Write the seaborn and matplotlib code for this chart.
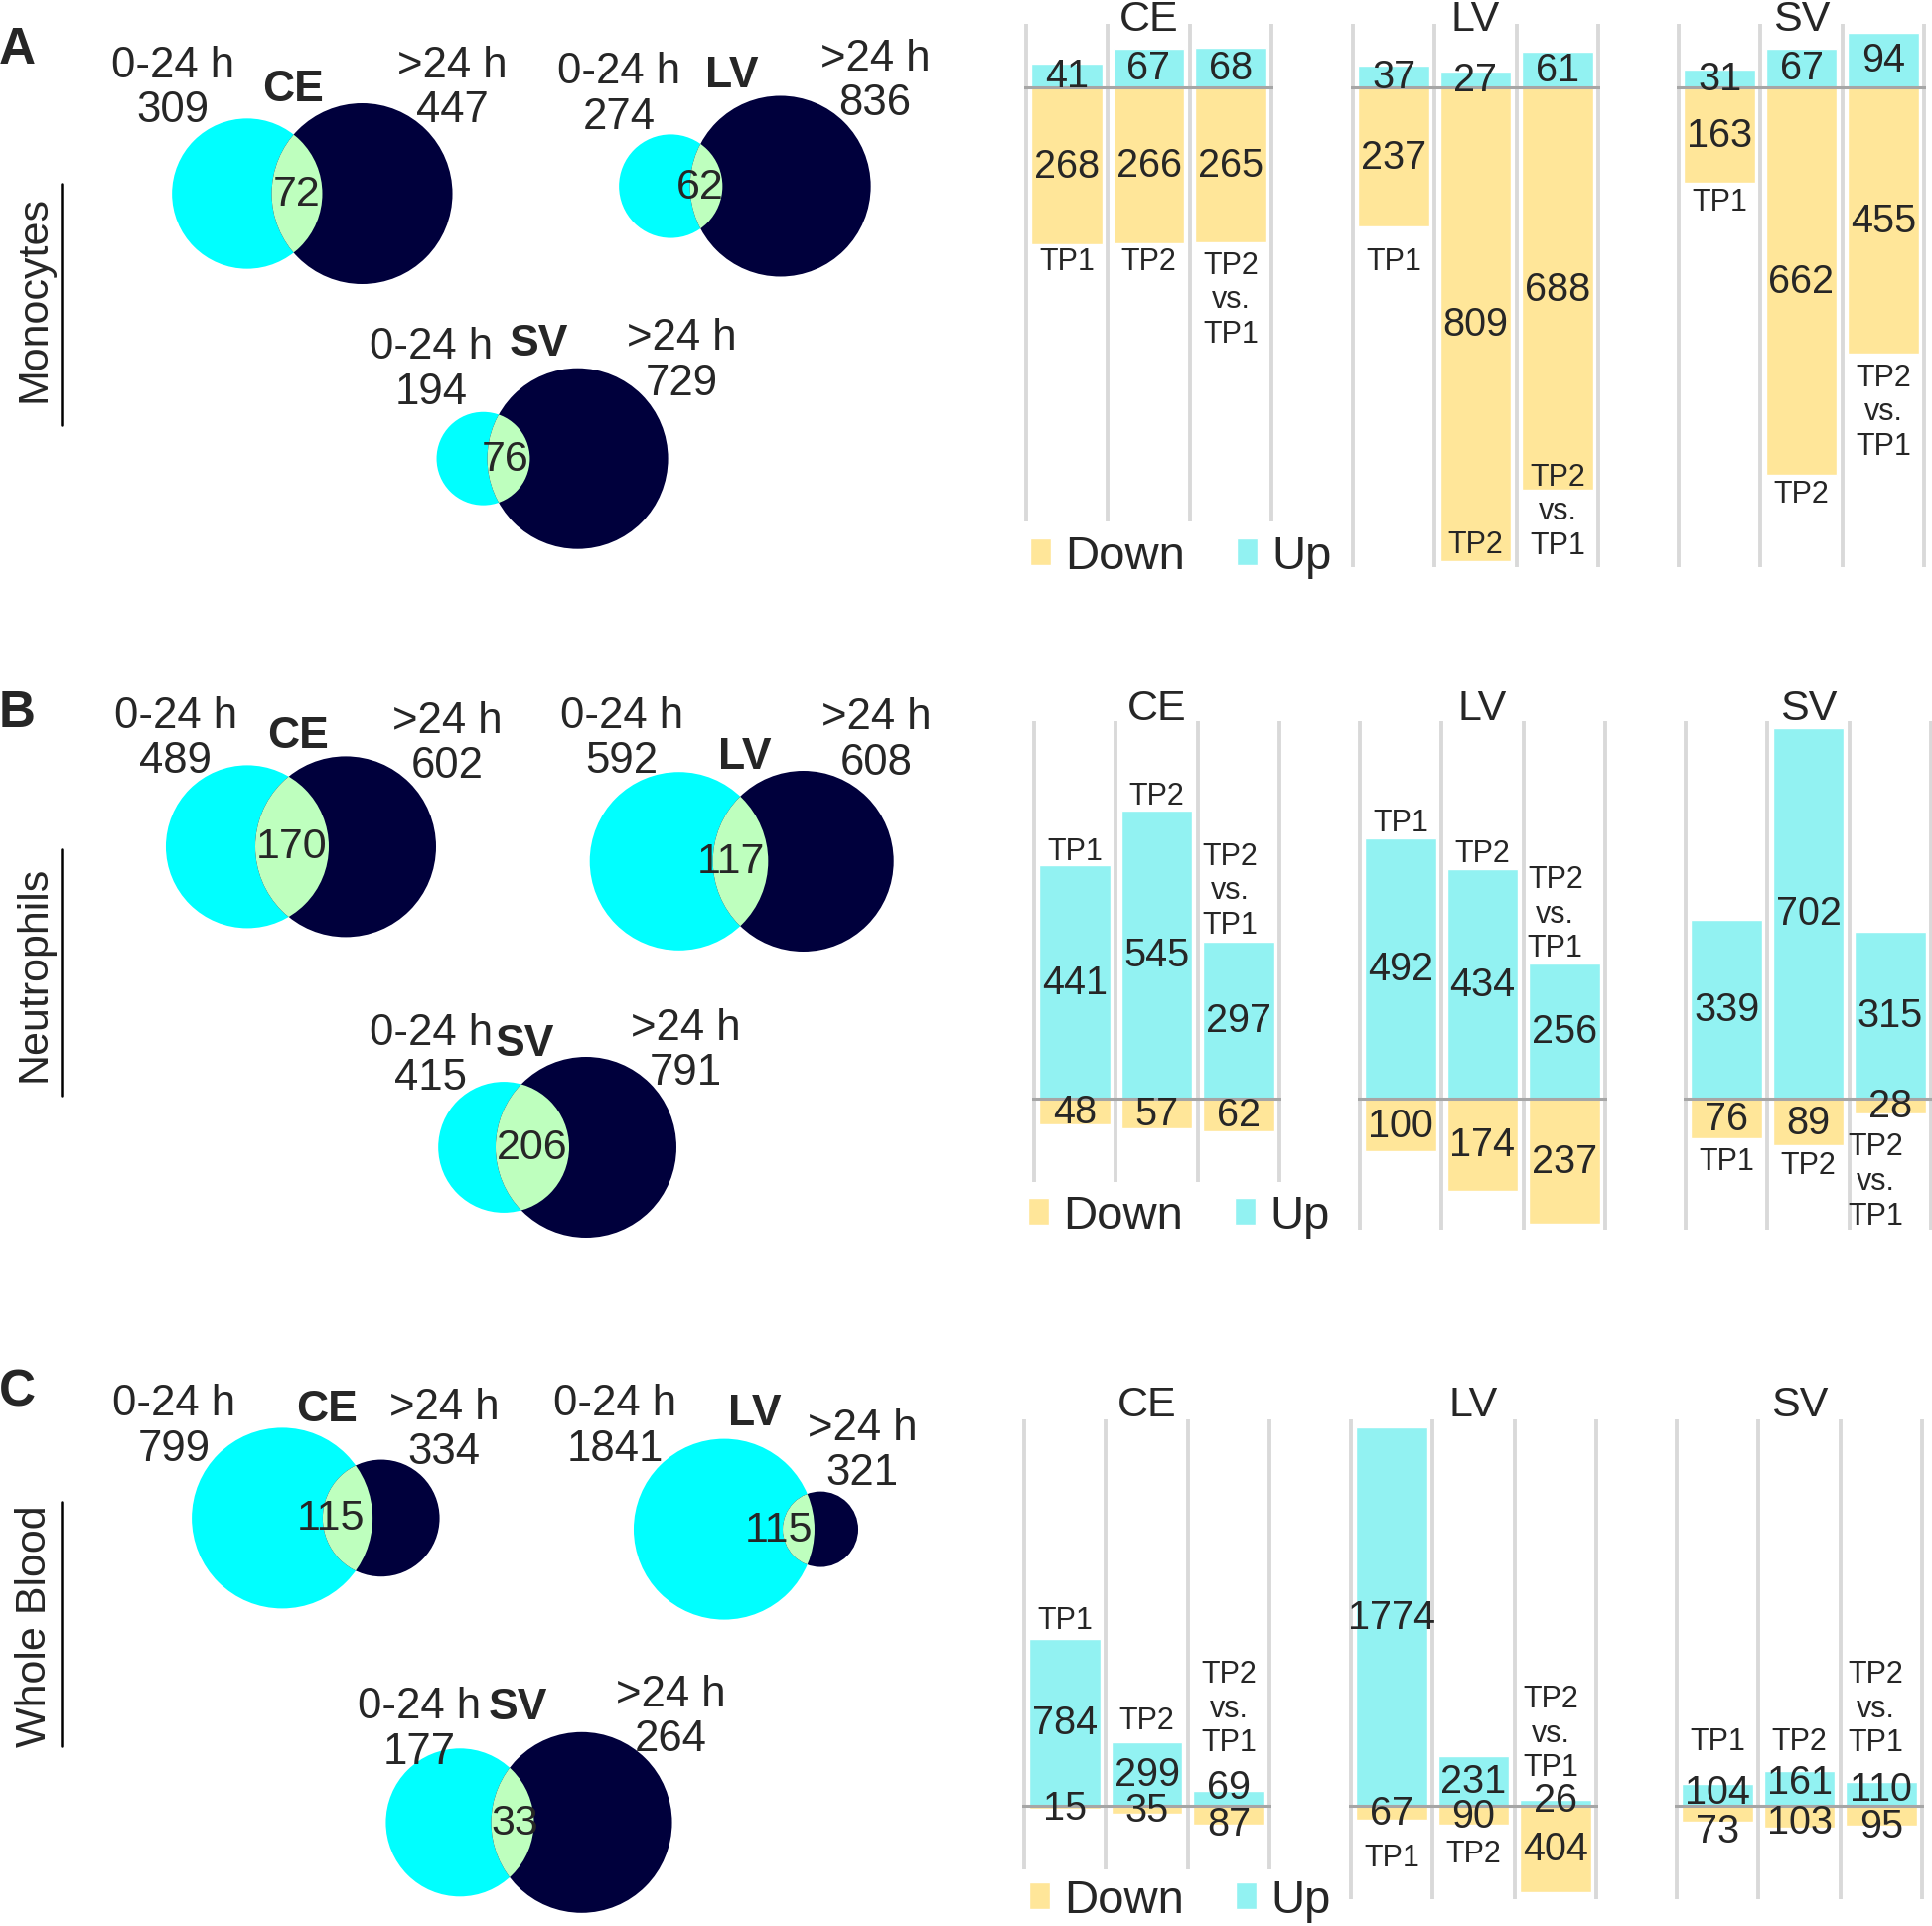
import numpy as np
import pandas as pd
import matplotlib
matplotlib.use('Agg')
import matplotlib.pyplot as plt
from matplotlib.patches import Circle
import seaborn as sns

# ---- data ----
cell_types = ['Monocytes', 'Neutrophils', 'Whole Blood']
tissues = ['CE', 'LV', 'SV']
comparisons = ['TP1', 'TP2', 'TP2 vs. TP1']
comparison_labels = ['TP1', 'TP2', 'TP2\nvs.\nTP1']

# Venn counts (rows: cell type, cols: tissue)
venn_early = [[309, 274, 194], [489, 592, 415], [799, 1841, 177]]   # 0-24 h
venn_late = [[447, 836, 729], [602, 608, 791], [334, 321, 264]]     # >24 h
venn_shared = [[72, 62, 76], [170, 117, 206], [115, 115, 33]]

# DE gene counts per tissue, order TP1, TP2, TP2 vs. TP1
up_mono = [[41, 67, 68], [37, 27, 61], [31, 67, 94]]
down_mono = [[268, 266, 265], [237, 809, 688], [163, 662, 455]]
up_neut = [[441, 545, 297], [492, 434, 256], [339, 702, 315]]
down_neut = [[48, 57, 62], [100, 174, 237], [76, 89, 28]]
up_wb = [[784, 299, 69], [1774, 231, 26], [104, 161, 110]]
down_wb = [[15, 35, 87], [67, 90, 404], [73, 103, 95]]

# ---- layout (pixels of the 1945x1940 canvas) ----
W, H = 1945, 1940
R_BIG = 91
venn_y = [[196, 188.5, 462.7], [853.4, 868, 1156], [1529.4, 1540.6, 1835.8]]
venn_lens_x = [[299, 711, 512], [294, 745.5, 536], [350, 804, 516]]
shared_dx = [[0, -6, -3], [0, -10, 0], [-17, -20, 2]]
early_xy = [[(174, 89), (623, 95.5), (434, 372.5)],
            [(177, 744), (626, 744), (434, 1063)],
            [(175, 1436.5), (619, 1436.5), (422, 1741.5)]]
late_xy = [[(455, 89), (881, 82), (686, 363.5)],
           [(450, 749), (882, 745.5), (690, 1058)],
           [(447, 1440), (868, 1461), (675, 1729)]]
name_xy = [[(295, 90.5), (737, 77), (542, 347)],
           [(300, 742), (750, 763), (528, 1052)],
           [(329, 1420), (760, 1424), (521, 1720)]]
row_label_y = [301, 980, 1637]
row_line = [(186, 429), (856, 1104), (1513, 1759)]
letters = ['A', 'B', 'C']
letter_y = [50, 719, 1402]

row_scale = [0.589, 0.532, 0.2147]      # px per gene
row_base = [89, 1107, 1819]
row_top = [25, 727, 1430]
row_bottom = [[526, 572, 572], [1191, 1239, 1239], [1883, 1913, 1913]]
panel_left = [[1033, 1362, 1690], [1041, 1369, 1697], [1031, 1360, 1688]]
title_pad = [-4.1, 1.7, 2.6]
legend_xy = [(1037, 561), (1035, 1225), (1036, 1914)]
cat_y = [[[-297, -297, -362], [-297, -781, -724], [-196, -695, -554]],
         [[468, 573, 394], [522, 464, 350], [-119, -126, -156]],
         [[873, 399, 457], [-243, -225, 341], [301, 301, 457]]]
cat_dx = [[0, 0, 0], [-0.1, -0.11, -0.18], [0, -0.05, -0.07]]   # shift of the 3-line label
# small vertical nudges (points) of crowded value labels
value_nudge = {(2, 0, 'Up', 2): 8, (2, 0, 'Down', 2): -6,
               (2, 1, 'Up', 2): 2,
               (2, 2, 'Up', 0): 2, (2, 2, 'Down', 0): -12,
               (2, 2, 'Up', 1): 4.5, (2, 2, 'Down', 1): -3.5,
               (2, 2, 'Up', 2): 4, (2, 2, 'Down', 2): -7}

CYAN, NAVY, LENS = '#00FFFF', '#00003C', '#BEFFBE'
pal = {'Down': '#FFE699', 'Up': '#92F2F2'}

sns.set_style('white')
plt.rcParams['font.family'] = ['Liberation Sans', 'DejaVu Sans']


def lens_area(d, r1, r2):
    if d >= r1 + r2:
        return 0.0
    if d <= abs(r1 - r2):
        return np.pi * min(r1, r2) ** 2
    a1 = r1 ** 2 * np.arccos((d * d + r1 * r1 - r2 * r2) / (2 * d * r1))
    a2 = r2 ** 2 * np.arccos((d * d + r2 * r2 - r1 * r1) / (2 * d * r2))
    a3 = 0.5 * np.sqrt((-d + r1 + r2) * (d + r1 - r2) * (d - r1 + r2) * (d + r1 + r2))
    return a1 + a2 - a3


def center_distance(r1, r2, target):
    lo, hi = abs(r1 - r2) + 1e-6, r1 + r2
    for _ in range(80):
        mid = (lo + hi) / 2
        if lens_area(mid, r1, r2) > target:
            lo = mid
        else:
            hi = mid
    return (lo + hi) / 2


fig = plt.figure(figsize=(W / 100, H / 100), dpi=100)
bg = fig.add_axes([0, 0, 1, 1])
bg.set_xlim(0, W)
bg.set_ylim(H, 0)
bg.axis('off')

# ---- Venn diagrams (area proportional) ----
for r in range(3):
    for c in range(3):
        n1, n2, n12 = venn_early[r][c], venn_late[r][c], venn_shared[r][c]
        nb = max(n1, n2)
        r1 = R_BIG * np.sqrt(n1 / nb)
        r2 = R_BIG * np.sqrt(n2 / nb)
        d = center_distance(r1, r2, n12 / nb * np.pi * R_BIG ** 2)
        mid = venn_lens_x[r][c]
        cx1 = mid - (d - r2 + r1) / 2
        cx2 = cx1 + d
        cy = venn_y[r][c]
        bg.add_patch(Circle((cx1, cy), r1, fc=CYAN, ec='none'))
        dark = Circle((cx2, cy), r2, fc=NAVY, ec='none')
        bg.add_patch(dark)
        lens = Circle((cx1, cy), r1, fc=LENS, ec='none')
        bg.add_patch(lens)
        lens.set_clip_path(dark)
        bg.text(mid + shared_dx[r][c], cy, str(n12), ha='center', va='center', fontsize=31)
        ex, ey = early_xy[r][c]
        bg.text(ex, ey, f'0-24 h\n{n1}', ha='center', va='center', fontsize=31.5, linespacing=1.13)
        lx, ly = late_xy[r][c]
        bg.text(lx, ly, f'>24 h\n{n2}', ha='center', va='center', fontsize=31.5, linespacing=1.13)
        nx, ny = name_xy[r][c]
        bg.text(nx, ny, tissues[c], ha='center', va='center', fontsize=32, fontweight='bold')

    bg.text(35, row_label_y[r], cell_types[r], rotation=90, ha='center', va='center', fontsize=31)
    bg.plot([62, 62], row_line[r], color='black', lw=1.8)
    bg.text(17, letter_y[r], letters[r], ha='center', va='center', fontsize=37, fontweight='bold')

# ---- bar panels ----
rows = [(up_mono, down_mono), (up_neut, down_neut), (up_wb, down_wb)]
axw = 247 * 3.04 / 3
for r, (ups, downs) in enumerate(rows):
    for c, tissue in enumerate(tissues):
        bottom_px = row_bottom[r][c]
        left = panel_left[r][c] - axw * 0.02 / 3.04
        ax = fig.add_axes([left / W, 1 - bottom_px / H, axw / W, (bottom_px - row_top[r]) / H])
        ax.patch.set_alpha(0)
        df = pd.DataFrame({
            'comparison': comparisons * 2,
            'count': [-v for v in downs[c]] + list(ups[c]),
            'direction': ['Down'] * 3 + ['Up'] * 3,
        })
        sns.barplot(df, x='comparison', y='count', hue='direction', hue_order=['Down', 'Up'],
                    order=comparisons, palette=pal, dodge=False, width=0.87, saturation=1,
                    errorbar=None, legend=(c == 0), ax=ax)
        ax.set_xlim(-0.52, 2.52)
        ax.set_ylim(-(bottom_px - row_base[r]) / row_scale[r], (row_base[r] - row_top[r]) / row_scale[r])
        for cont in ax.containers:
            direction = 'Down' if np.nanmin(cont.datavalues) < 0 else 'Up'
            anns = ax.bar_label(cont, labels=[str(abs(int(round(v)))) for v in cont.datavalues],
                                label_type='center', fontsize=28.5)
            for i, ann in enumerate(anns):
                dy = value_nudge.get((r, c, direction, i), 0)
                if dy:
                    ann.xyann = (0, dy)
        ax.set_xticks([-0.5, 0.5, 1.5, 2.5], minor=True)
        ax.grid(False)
        ax.grid(which='minor', axis='x', color='#D9D9D9', lw=2.8)
        ax.set_axisbelow(True)
        ax.tick_params(which='both', bottom=False, left=False, labelbottom=False, labelleft=False)
        ax.set_xlabel('')
        ax.set_ylabel('')
        sns.despine(ax=ax, left=True, bottom=True)
        ax.axhline(0, color='#A6A6A6', lw=2.2, zorder=2.5)
        ax.set_title(tissue, fontsize=31, y=1.0, pad=title_pad[r])
        for i, lab in enumerate(comparison_labels):
            x = i + (cat_dx[r][c] if i == 2 else 0)
            ax.text(x, cat_y[r][c][i], lab, ha='center', va='center', fontsize=22, linespacing=1.2)
        if c == 0:
            lx, ly = legend_xy[r]
            sns.move_legend(ax, 'center left', bbox_to_anchor=(lx / W, 1 - ly / H),
                            bbox_transform=fig.transFigure, ncol=2, frameon=False, title='',
                            fontsize=34, handlelength=0.45, handleheight=0.5, handletextpad=0.3,
                            columnspacing=1.1, borderpad=0, borderaxespad=0)

fig.savefig('out.png', dpi=100)
